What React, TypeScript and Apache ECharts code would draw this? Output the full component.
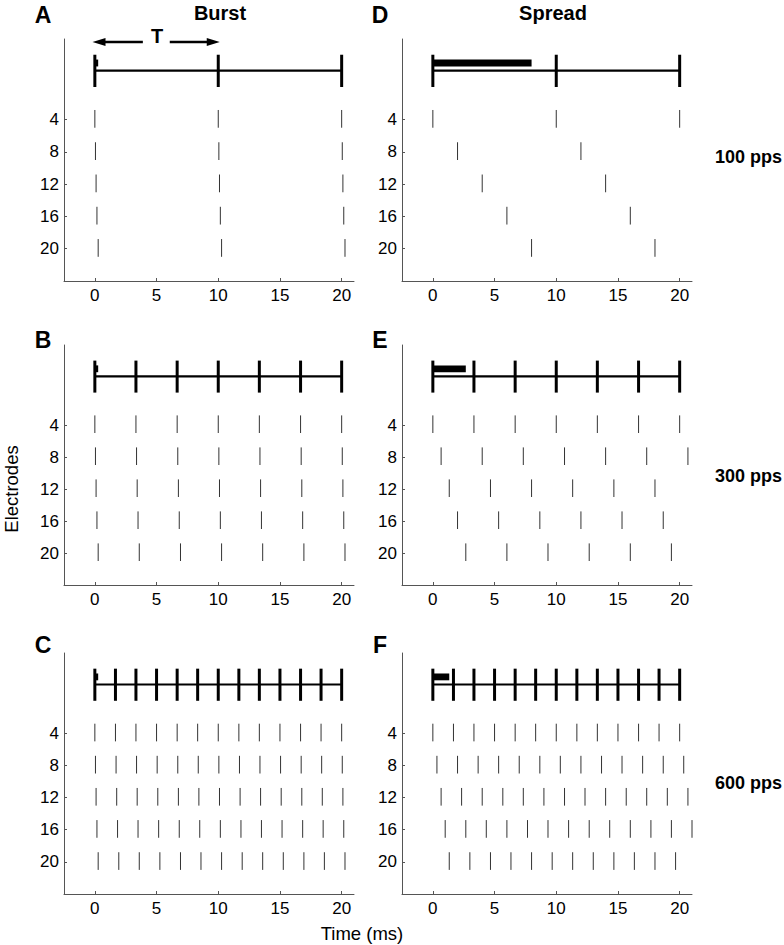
import React, { useEffect, useRef } from "react";
import * as echarts from "echarts";

// ---- data ----
const electrodes = [4, 8, 12, 16, 20];
const xTicks = [0, 5, 10, 15, 20];

const train100 = [0, 10, 20];
const train300 = [0, 3.33, 6.67, 10, 13.33, 16.67, 20];
const train600 = [0, 1.67, 3.33, 5, 6.67, 8.33, 10, 11.67, 13.33, 15, 16.67, 18.33, 20];

// Burst panels: spike times per electrode (4, 8, 12, 16, 20)
const burstA = [
  [0, 10, 20],
  [0.05, 10.05, 20.05],
  [0.1, 10.1, 20.1],
  [0.17, 10.17, 20.17],
  [0.27, 10.27, 20.27],
];
const burstB = [
  [0, 3.33, 6.67, 10, 13.33, 16.67, 20],
  [0.05, 3.38, 6.72, 10.05, 13.38, 16.72, 20.05],
  [0.1, 3.43, 6.77, 10.1, 13.43, 16.77, 20.1],
  [0.17, 3.5, 6.84, 10.17, 13.5, 16.84, 20.17],
  [0.27, 3.6, 6.94, 10.27, 13.6, 16.94, 20.27],
];
const burstC = [
  [0, 1.67, 3.33, 5, 6.67, 8.33, 10, 11.67, 13.33, 15, 16.67, 18.33, 20],
  [0.05, 1.72, 3.38, 5.05, 6.72, 8.38, 10.05, 11.72, 13.38, 15.05, 16.72, 18.38, 20.05],
  [0.1, 1.77, 3.43, 5.1, 6.77, 8.43, 10.1, 11.77, 13.43, 15.1, 16.77, 18.43, 20.1],
  [0.17, 1.84, 3.5, 5.17, 6.84, 8.5, 10.17, 11.84, 13.5, 15.17, 16.84, 18.5, 20.17],
  [0.27, 1.94, 3.6, 5.27, 6.94, 8.6, 10.27, 11.94, 13.6, 15.27, 16.94, 18.6, 20.27],
];
// Spread panels
const spreadD = [
  [0, 10, 20],
  [2, 12],
  [4, 14],
  [6, 16],
  [8, 18],
];
const spreadE = [
  [0, 3.33, 6.67, 10, 13.33, 16.67, 20],
  [0.67, 4, 7.33, 10.67, 14, 17.33, 20.67],
  [1.33, 4.67, 8, 11.33, 14.67, 18],
  [2, 5.33, 8.67, 12, 15.33, 18.67],
  [2.67, 6, 9.33, 12.67, 16, 19.33],
];
const spreadF = [
  [0, 1.67, 3.33, 5, 6.67, 8.33, 10, 11.67, 13.33, 15, 16.67, 18.33, 20],
  [0.33, 2, 3.67, 5.33, 7, 8.67, 10.33, 12, 13.67, 15.33, 17, 18.67, 20.33],
  [0.67, 2.33, 4, 5.67, 7.33, 9, 10.67, 12.33, 14, 15.67, 17.33, 19, 20.67],
  [1, 2.67, 4.33, 6, 7.67, 9.33, 11, 12.67, 14.33, 16, 17.67, 19.33, 21],
  [1.33, 3, 4.67, 6.33, 8, 9.67, 11.33, 13, 14.67, 16.33, 18, 19.67],
];
// duration bar (ms) drawn above each pulse train
const barEnds = [0.27, 0.27, 0.27, 8, 2.67, 1.33];
const trainSpan = [0, 20];
// "T" arrow segments in panel A: [from, to]
const arrowSegments = [
  [3.89, -0.19],
  [6.07, 10.12],
];
const panelLetters = ["A", "B", "C", "D", "E", "F"];
const rateLabels = ["100 pps", "300 pps", "600 pps"];

// ---- layout / style ----
const FONT = "'Liberation Sans', Arial, Helvetica, sans-serif";
const X_MIN = -2.5;
const X_MAX = 21;
const Y_MIN = -6;
const Y_MAX = 24;
const PULSE_TOP = -4.05;
const PULSE_BOTTOM = -0.05;
const TRAIN_Y = -2.08;
const BAR_TOP = -3.45;
const BAR_BOTTOM = -2.6;
const ARROW_Y = -5.63;
const SPIKE_UP = 1.2;
const SPIKE_DOWN = 1.0;

const colLeft = [64, 402];
const rowTop = [39, 345, 653];
const rowH = [242, 240, 241];
const PW = 290;

export default function App() {
  const ref = useRef<HTMLDivElement>(null);

  useEffect(() => {
    if (!ref.current) return;
    const chart = echarts.init(ref.current, undefined, { renderer: "svg" });

    const spikesList = [burstA, burstB, burstC, spreadD, spreadE, spreadF];
    const trains = [train100, train300, train600, train100, train300, train600];

    const panels = panelLetters.map((_, i) => {
      const col = i < 3 ? 0 : 1;
      const row = i % 3;
      return { left: colLeft[col], top: rowTop[row], height: rowH[row] };
    });

    const grids = panels.map((p) => ({
      left: p.left,
      top: p.top,
      width: PW,
      height: p.height,
      containLabel: false,
    }));

    const axisColor = "#555";
    const xAxes = panels.map((_, i) => ({
      type: "value",
      gridIndex: i,
      min: X_MIN,
      max: X_MAX,
      axisLine: { show: true, onZero: false, lineStyle: { color: axisColor, width: 1 } },
      axisTick: { show: true, inside: true, length: 3, customValues: xTicks, lineStyle: { color: axisColor } },
      axisLabel: { show: true, customValues: xTicks, margin: 6, fontSize: 17, color: "#000", fontFamily: FONT },
      splitLine: { show: false },
    }));
    const yAxes = panels.map((_, i) => ({
      type: "value",
      gridIndex: i,
      min: Y_MIN,
      max: Y_MAX,
      inverse: true,
      position: "left",
      axisLine: { show: true, onZero: false, lineStyle: { color: axisColor, width: 1 } },
      axisTick: { show: true, inside: true, length: 3, customValues: electrodes, lineStyle: { color: axisColor } },
      axisLabel: { show: true, customValues: electrodes, margin: 5, fontSize: 17, color: "#000", fontFamily: FONT },
      splitLine: { show: false },
    }));

    const series: any[] = [];
    panels.forEach((_, i) => {
      const spikeData: number[][] = [];
      spikesList[i].forEach((times, k) => {
        times.forEach((t) => spikeData.push([t, electrodes[k]]));
      });
      series.push({
        type: "custom",
        xAxisIndex: i,
        yAxisIndex: i,
        silent: true,
        data: spikeData,
        renderItem: (params: any, api: any) => {
          const t = api.value(0);
          const e = api.value(1);
          const p1 = api.coord([t, e - SPIKE_UP]);
          const p2 = api.coord([t, e + SPIKE_DOWN]);
          return {
            type: "line",
            shape: { x1: p1[0], y1: p1[1], x2: p2[0], y2: p2[1] },
            style: { stroke: "#333", lineWidth: 1 },
          };
        },
      });
      // train baseline
      series.push({
        type: "custom",
        xAxisIndex: i,
        yAxisIndex: i,
        silent: true,
        data: [[trainSpan[0], trainSpan[1]]],
        renderItem: (params: any, api: any) => {
          const a = api.coord([api.value(0), TRAIN_Y]);
          const b = api.coord([api.value(1), TRAIN_Y]);
          return {
            type: "line",
            shape: { x1: a[0], y1: a[1], x2: b[0], y2: b[1] },
            style: { stroke: "#000", lineWidth: 2.2 },
          };
        },
      });
      // pulse markers
      series.push({
        type: "custom",
        xAxisIndex: i,
        yAxisIndex: i,
        silent: true,
        data: trains[i].map((t) => [t, 0]),
        renderItem: (params: any, api: any) => {
          const t = api.value(0);
          const a = api.coord([t, PULSE_TOP]);
          const b = api.coord([t, PULSE_BOTTOM]);
          return {
            type: "line",
            shape: { x1: a[0], y1: a[1], x2: b[0], y2: b[1] },
            style: { stroke: "#000", lineWidth: 3 },
          };
        },
      });
      // duration bar
      series.push({
        type: "custom",
        xAxisIndex: i,
        yAxisIndex: i,
        silent: true,
        data: [[0, barEnds[i]]],
        renderItem: (params: any, api: any) => {
          const a = api.coord([api.value(0), BAR_TOP]);
          const b = api.coord([api.value(1), BAR_BOTTOM]);
          return {
            type: "rect",
            shape: { x: a[0], y: a[1], width: Math.max(b[0] - a[0], 2), height: b[1] - a[1] },
            style: { fill: "#000" },
          };
        },
      });
    });
    // "T" arrow in panel A
    series.push({
      type: "custom",
      xAxisIndex: 0,
      yAxisIndex: 0,
      silent: true,
      clip: false,
      data: arrowSegments,
      renderItem: (params: any, api: any) => {
        const a = api.coord([api.value(0), ARROW_Y]);
        const b = api.coord([api.value(1), ARROW_Y]);
        const dir = b[0] > a[0] ? 1 : -1;
        const headLen = 13;
        const headHalf = 4;
        return {
          type: "group",
          children: [
            {
              type: "line",
              shape: { x1: a[0], y1: a[1], x2: b[0] - dir * headLen * 0.8, y2: b[1] },
              style: { stroke: "#000", lineWidth: 2.5 },
            },
            {
              type: "polygon",
              shape: {
                points: [
                  [b[0], b[1]],
                  [b[0] - dir * headLen, b[1] - headHalf],
                  [b[0] - dir * headLen, b[1] + headHalf],
                ],
              },
              style: { fill: "#000" },
            },
          ],
        };
      },
    });

    const txt = (text: string, x: number, y: number, size: number, bold: boolean, align = "center", rotation = 0) => ({
      type: "text",
      x,
      y,
      rotation,
      silent: true,
      style: {
        text,
        fill: "#000",
        font: `${bold ? "bold " : ""}${size}px ${FONT}`,
        textAlign: align,
        textVerticalAlign: "middle",
        align,
        verticalAlign: "middle",
      },
    });

    const graphics: any[] = [];
    const letterPos = [
      [43, 15],
      [43, 340],
      [43, 645],
      [380, 15],
      [380, 340],
      [380, 645],
    ];
    panelLetters.forEach((l, i) => graphics.push(txt(l, letterPos[i][0], letterPos[i][1], 23, true)));
    graphics.push(txt("Burst", 220, 13, 20, true));
    graphics.push(txt("Spread", 553, 13, 20, true));
    graphics.push(txt("T", 157, 36, 20, true));
    const rateY = [157, 476, 783];
    rateLabels.forEach((r, i) => graphics.push(txt(r, 715, rateY[i], 18, true, "left")));
    graphics.push(txt("Electrodes", 11, 489, 18.5, false, "center", Math.PI / 2));
    graphics.push(txt("Time (ms)", 362, 933, 18.5, false));

    chart.setOption({
      animation: false,
      backgroundColor: "#fff",
      textStyle: { fontFamily: FONT },
      grid: grids,
      xAxis: xAxes,
      yAxis: yAxes,
      series,
      graphic: { elements: graphics },
    });

    return () => chart.dispose();
  }, []);

  return (
    <div
      ref={ref}
      style={{ position: "fixed", left: 0, top: 0, width: 784, height: 945, background: "#fff" }}
    />
  );
}
